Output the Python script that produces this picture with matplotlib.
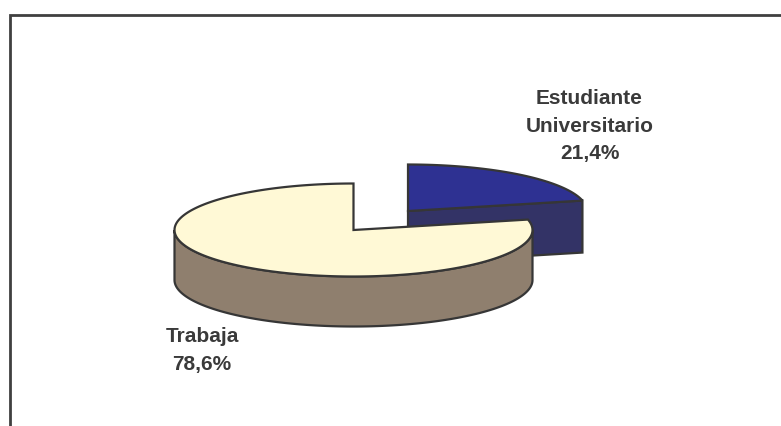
import numpy as np
import matplotlib
matplotlib.use("Agg")
import matplotlib.pyplot as plt
from matplotlib.patches import Polygon

categories = ["Estudiante\nUniversitario", "Trabaja"]
values = [21.4, 78.6]
labels = ["21,4%", "78,6%"]
colors_top = ["#2E3192", "#FFF9D6"]
colors_side = ["#333366", "#8F7F6E"]
EDGE = "#363636"

W, H = 781, 426
fig = plt.figure(figsize=(W / 100, H / 100), dpi=100)
ax = fig.add_axes([0, 0, 1, 1])
ax.set_xlim(0, W)
ax.set_ylim(H, 0)
ax.axis("off")

RX, RY, DEPTH = 179, 46.5, 50
centers = [(408, 211), (353.5, 230)]
LW = 1.6


def pt(c, deg, dy=0):
    a = np.radians(deg)
    return c[0] + RX * np.cos(a), c[1] - RY * np.sin(a) + dy


def arc(c, a0, a1, dy=0):
    t = np.linspace(a0, a1, 200)
    return np.array([pt(c, d, dy) for d in t])


# slice angles: blue runs clockwise from 12 o'clock, the rest continues round
split = 90 - values[0] / 100 * 360
spans = [(split, 90), (90, split + 360)]

# blue slice
c = centers[0]
a0, a1 = spans[0]
p_end = pt(c, a0)
ax.add_patch(Polygon([c, p_end, (p_end[0], p_end[1] + DEPTH + 2),
                      (c[0], c[1] + DEPTH + 2)], closed=True,
                     fc=colors_side[0], ec=EDGE, lw=LW, zorder=1))
ax.add_patch(Polygon(np.vstack([[c], arc(c, a0, a1)]), closed=True,
                     fc=colors_top[0], ec=EDGE, lw=LW, zorder=2))

# large slice: the visible rim is the front half of the ellipse
c = centers[1]
a0, a1 = spans[1]
front = arc(c, 180, 360)
back = arc(c, 360, 180, DEPTH)
ax.add_patch(Polygon(np.vstack([front, back]), closed=True,
                     fc=colors_side[1], ec=EDGE, lw=LW, zorder=3,
                     joinstyle="miter"))
ax.add_patch(Polygon(np.vstack([[c], arc(c, a0, a1)]), closed=True,
                     fc=colors_top[1], ec=EDGE, lw=LW, zorder=4))

# frame, running off the right and bottom edges
ax.plot([10, 10, W + 5], [H + 5, 15, 15], color="#404040", lw=2, zorder=5,
        clip_on=True, solid_joinstyle="miter")

font = dict(family="Liberation Sans", fontsize=15, fontweight="bold",
            color="#3A3A3A", ha="center", va="center", linespacing=1.56)
ax.text(589.5, 126, categories[0] + "\n" + labels[0], **font)
ax.text(202, 350.5, categories[1] + "\n" + labels[1], **font)

fig.savefig("out.png", dpi=100)
